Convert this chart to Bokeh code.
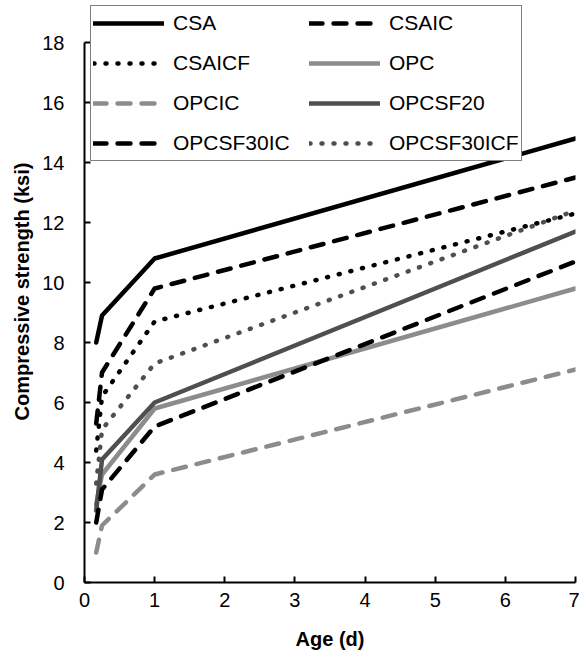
from bokeh.plotting import figure
from bokeh.models import Legend, LegendItem, FixedTicker
from bokeh.embed import file_html
from bokeh.resources import INLINE

# Compressive strength (ksi) versus age (days)
age = [0.167, 0.25, 1, 7]
csa = [8.0, 8.9, 10.8, 14.8]
csaic = [5.3, 7.0, 9.8, 13.5]
csaicf = [4.4, 6.2, 8.7, 12.3]
opc = [2.6, 3.6, 5.8, 9.8]
opcic = [1.0, 1.9, 3.6, 7.1]
opcsf20 = [2.4, 4.1, 6.0, 11.7]
opcsf30ic = [2.0, 3.1, 5.2, 10.7]
opcsf30icf = [3.3, 5.1, 7.3, 12.4]

x_ticks = [0, 1, 2, 3, 4, 5, 6, 7]
y_ticks = [0, 2, 4, 6, 8, 10, 12, 14, 16, 18]

FONT = "Liberation Sans"
BLACK = "#000000"
LIGHT = "#8c8c8c"
DARK = "#4f4f4f"
DASH = "13 11"
DOT = "1 11"

# the frame reaches above 18 so the legend can sit over the top of the axis
p = figure(width=579, height=655, output_backend="svg", toolbar_location=None,
           x_range=(0, 7), y_range=(0, 19.4),
           min_border_left=84, min_border_right=4, min_border_top=0, min_border_bottom=73)
p.outline_line_color = None
p.grid.visible = False
p.background_fill_color = "white"

series = [
    ("CSA", csa, BLACK, "solid"),
    ("CSAIC", csaic, BLACK, DASH),
    ("CSAICF", csaicf, BLACK, DOT),
    ("OPC", opc, LIGHT, "solid"),
    ("OPCIC", opcic, LIGHT, DASH),
    ("OPCSF20", opcsf20, DARK, "solid"),
    ("OPCSF30IC", opcsf30ic, BLACK, DASH),
    ("OPCSF30ICF", opcsf30icf, DARK, DOT),
]

items = {}
for name, vals, color, dash in series:
    r = p.line(age, vals, line_color=color, line_width=4.5, line_dash=dash,
               line_cap="round", line_join="round")
    items[name] = LegendItem(label=name, renderers=[r])

# legend columns fill top to bottom, so order entries to read across rows
order = ["CSA", "CSAICF", "OPCIC", "OPCSF30IC", "CSAIC", "OPC", "OPCSF20", "OPCSF30ICF"]
legend = Legend(items=[items[k] for k in order], ncols=2, location=(6, 421),
                label_text_font=FONT, label_text_font_size="21px", label_text_color="black",
                glyph_width=71, glyph_height=30, label_height=30, label_standoff=9,
                label_width=126, spacing=10, padding=2, margin=0,
                border_line_color="black", border_line_width=1.5,
                background_fill_color="white", background_fill_alpha=1.0)
p.add_layout(legend, "center")

for ax in (p.xaxis[0], p.yaxis[0]):
    ax.axis_line_color = "black"
    ax.axis_line_width = 2
    ax.major_tick_line_color = "black"
    ax.major_tick_line_width = 2
    ax.major_tick_in = 6
    ax.major_tick_out = 0
    ax.minor_tick_line_color = None
    ax.major_label_text_font = FONT
    ax.major_label_text_font_size = "20px"
    ax.major_label_text_color = "black"
    ax.axis_label_text_font = FONT
    ax.axis_label_text_font_size = "20px"
    ax.axis_label_text_font_style = "bold"
    ax.axis_label_text_color = "black"

p.yaxis.bounds = (0, 18)
p.xaxis.ticker = FixedTicker(ticks=x_ticks)
p.yaxis.ticker = FixedTicker(ticks=y_ticks)
p.xaxis.axis_label = "Age (d)"
p.yaxis.axis_label = "Compressive strength (ksi)"
p.xaxis.major_label_standoff = 10
p.yaxis.major_label_standoff = 20
p.xaxis.axis_label_standoff = 18
p.yaxis.axis_label_standoff = 6

open("out.html", "w").write(file_html(p, INLINE))
